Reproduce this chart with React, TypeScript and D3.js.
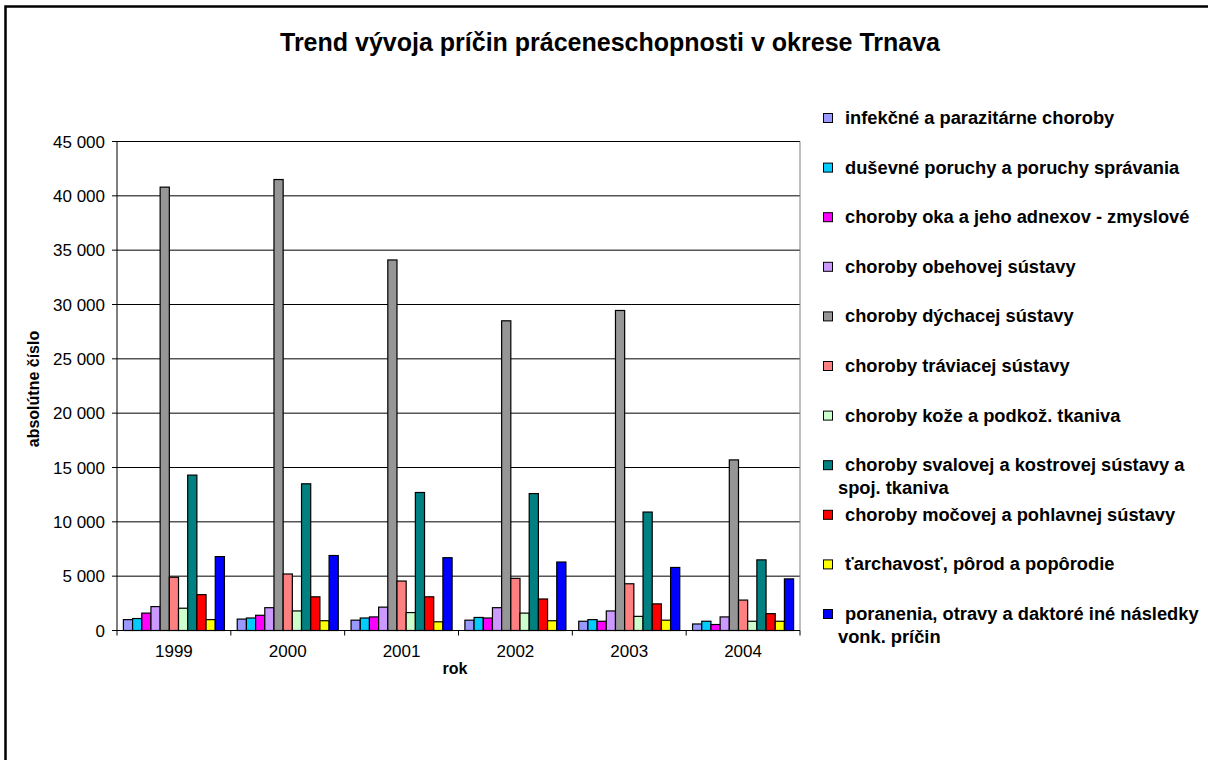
import * as d3 from 'd3';

const years = ['1999', '2000', '2001', '2002', '2003', '2004'];

const infekcne = [1000, 1050, 950, 950, 850, 600];
const dusevne = [1100, 1150, 1150, 1200, 1000, 850];
const oka = [1600, 1400, 1250, 1150, 850, 550];
const obehovej = [2200, 2100, 2150, 2100, 1800, 1250];
const dychacej = [40800, 41500, 34100, 28500, 29450, 15700];
const traviacej = [4900, 5200, 4550, 4800, 4300, 2800];
const koze = [2050, 1800, 1650, 1600, 1300, 850];
const svalovej = [14300, 13500, 12700, 12600, 10900, 6500];
const mocovej = [3300, 3100, 3100, 2900, 2450, 1550];
const tarchavost = [1000, 900, 800, 900, 950, 850];
const poranenia = [6800, 6900, 6700, 6300, 5800, 4750];

const seriesNames = [
  ['infekčné a parazitárne choroby'],
  ['duševné poruchy a poruchy správania'],
  ['choroby oka a jeho adnexov - zmyslové'],
  ['choroby obehovej sústavy'],
  ['choroby dýchacej sústavy'],
  ['choroby tráviacej sústavy'],
  ['choroby kože a podkož. tkaniva'],
  ['choroby svalovej a kostrovej sústavy a', 'spoj. tkaniva'],
  ['choroby močovej a pohlavnej sústavy'],
  ['ťarchavosť, pôrod a popôrodie'],
  ['poranenia, otravy a daktoré iné následky', 'vonk. príčin'],
];
const seriesColors = [
  '#9999FF', '#00CCFF', '#FF00FF', '#CC99FF', '#969696', '#FF8080',
  '#CCFFCC', '#008080', '#FF0000', '#FFFF00', '#0000FF',
];
const seriesValues = [
  infekcne, dusevne, oka, obehovej, dychacej, traviacej,
  koze, svalovej, mocovej, tarchavost, poranenia,
];
const yTicks = [0, 5000, 10000, 15000, 20000, 25000, 30000, 35000, 40000, 45000];

const W = 1208;
const H = 760;
const plot = { left: 117, right: 800, top: 141.5, bottom: 630.5 };
const font = "'Liberation Sans', Arial, sans-serif";

export default function App() {
  const x0 = d3.scaleBand<string>().domain(years).range([plot.left, plot.right]).padding(0);
  const bw = x0.bandwidth();
  const gap = 6.4;
  const x1 = d3
    .scaleBand<number>()
    .domain(d3.range(seriesValues.length))
    .range([gap, bw - gap])
    .padding(0);
  const y = d3.scaleLinear().domain([0, 45000]).range([plot.bottom, plot.top]);
  const fmt = (v: number) => d3.format(',')(v).replace(/,/g, ' ');

  const legendX = 823;
  const legendY0 = 118;
  const legendStep = 49.6;

  return (
    <div style={{ position: 'absolute', left: 0, top: 0 }}>
      <svg width={W} height={H} style={{ display: 'block', fontFamily: font }}>
        <rect x={0} y={0} width={W} height={H} fill="#fff" />
        {/* outer chart frame */}
        <rect x={5.5} y={6.5} width={1400} height={1000} fill="none" stroke="#000" strokeWidth={2.5} />

        <text x={610} y={51} textAnchor="middle" fontSize={25} fontWeight="bold">
          Trend vývoja príčin práceneschopnosti v okrese Trnava
        </text>

        {/* gridlines */}
        {yTicks.map((t) => (
          <g key={t}>
            <line x1={plot.left} x2={plot.right} y1={y(t)} y2={y(t)} stroke="#000" strokeWidth={1} />
            <line x1={plot.left - 5} x2={plot.left} y1={y(t)} y2={y(t)} stroke="#000" strokeWidth={1} />
            <text x={105} y={y(t) + 6} textAnchor="end" fontSize={17}>
              {fmt(t)}
            </text>
          </g>
        ))}
        <line x1={plot.right} x2={plot.right} y1={plot.top} y2={plot.bottom} stroke="#808080" strokeWidth={1} />

        {/* bars */}
        {years.map((yr, i) => (
          <g key={yr} transform={`translate(${x0(yr)},0)`}>
            {seriesValues.map((vals, s) => (
              <rect
                key={s}
                x={x1(s)}
                y={y(vals[i])}
                width={x1.bandwidth()}
                height={y(0) - y(vals[i])}
                fill={seriesColors[s]}
                stroke="#000"
                strokeWidth={1.2}
              />
            ))}
          </g>
        ))}

        {/* axes */}
        <line x1={plot.left} x2={plot.left} y1={plot.top} y2={plot.bottom} stroke="#000" strokeWidth={1} />
        <line x1={plot.left} x2={plot.right} y1={plot.bottom} y2={plot.bottom} stroke="#000" strokeWidth={1} />
        {years.concat(['end']).map((yr, i) => {
          const xx = plot.left + i * bw;
          return <line key={yr} x1={xx} x2={xx} y1={plot.bottom} y2={plot.bottom + 5} stroke="#000" strokeWidth={1} />;
        })}
        {years.map((yr) => (
          <text key={yr} x={x0(yr)! + bw / 2} y={657} textAnchor="middle" fontSize={17}>
            {yr}
          </text>
        ))}
        <text x={455} y={674} textAnchor="middle" fontSize={16} fontWeight="bold">
          rok
        </text>
        <text
          transform={`translate(39,${(plot.top + plot.bottom) / 2 + 3}) rotate(-90)`}
          textAnchor="middle"
          fontSize={16}
          fontWeight="bold"
        >
          absolútne číslo
        </text>

        {/* legend */}
        {seriesNames.map((lines, s) => {
          const cy = legendY0 + s * legendStep;
          return (
            <g key={s}>
              <rect x={legendX + 0.5} y={cy - 4.5} width={9} height={9} fill={seriesColors[s]} stroke="#000" strokeWidth={1} />
              <text x={845} y={cy + 6} fontSize={18.3} fontWeight="bold">
                {lines[0]}
              </text>
              {lines[1] && (
                <text x={838} y={cy + 29} fontSize={18.3} fontWeight="bold">
                  {lines[1]}
                </text>
              )}
            </g>
          );
        })}
      </svg>
    </div>
  );
}
